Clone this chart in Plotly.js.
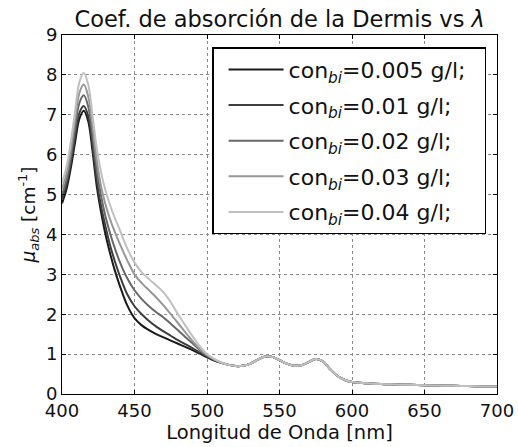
<!DOCTYPE html>
<html>
<head>
<meta charset="utf-8">
<script src="https://cdn.plot.ly/plotly-3.0.1.min.js"></script>
<style>html,body{margin:0;padding:0;background:#fff;}#chart{width:518px;height:447px;}</style>
</head>
<body>
<div id="chart"></div>
<script>
// Wavelength grid (nm) for the band region where the curves differ
const lambdaBand = [400, 403, 406, 409, 412, 415, 418, 421, 424, 427, 430, 433, 436, 440, 445, 450, 455, 460, 465, 470, 475, 480, 485, 490, 495, 500, 505, 510];
// Common tail (all curves coincide beyond ~510 nm)
const lambdaTail = [515, 520, 525, 530, 535, 540, 545, 550, 555, 560, 565, 570, 575, 580, 585, 590, 595, 600, 610, 620, 630, 640, 650, 660, 670, 680, 690, 700];
const muTail     = [0.73, 0.70, 0.71, 0.76, 0.86, 0.94, 0.93, 0.85, 0.76, 0.71, 0.72, 0.80, 0.88, 0.82, 0.62, 0.45, 0.35, 0.30, 0.27, 0.25, 0.24, 0.23, 0.22, 0.21, 0.205, 0.20, 0.19, 0.185];

const mu005 = [4.78, 5.12, 5.65, 6.30, 6.90, 7.10, 6.85, 6.10, 5.20, 4.55, 4.00, 3.55, 3.15, 2.70, 2.22, 1.90, 1.72, 1.60, 1.50, 1.42, 1.34, 1.26, 1.18, 1.10, 1.01, 0.92, 0.84, 0.78];
const mu001 = [4.90, 5.22, 5.78, 6.45, 7.05, 7.22, 6.98, 6.25, 5.35, 4.70, 4.20, 3.75, 3.38, 2.95, 2.50, 2.20, 2.00, 1.83, 1.69, 1.57, 1.46, 1.35, 1.25, 1.15, 1.04, 0.94, 0.85, 0.78];
const mu002 = [5.00, 5.35, 5.92, 6.65, 7.30, 7.49, 7.22, 6.50, 5.60, 4.95, 4.45, 4.05, 3.70, 3.30, 2.90, 2.60, 2.38, 2.20, 2.05, 1.92, 1.76, 1.60, 1.43, 1.27, 1.10, 0.96, 0.86, 0.78];
const mu003 = [5.15, 5.50, 6.10, 6.87, 7.55, 7.76, 7.47, 6.75, 5.85, 5.20, 4.75, 4.40, 4.10, 3.75, 3.35, 3.00, 2.78, 2.60, 2.42, 2.22, 2.00, 1.78, 1.55, 1.33, 1.13, 0.98, 0.87, 0.78];
const mu004 = [5.30, 5.68, 6.30, 7.08, 7.82, 8.05, 7.77, 7.00, 6.15, 5.55, 5.10, 4.75, 4.45, 4.10, 3.65, 3.30, 3.05, 2.88, 2.72, 2.55, 2.30, 2.00, 1.72, 1.45, 1.20, 1.00, 0.88, 0.79];

const seriesNames = ['con<sub><i>bi</i></sub>=0.005 g/l;', 'con<sub><i>bi</i></sub>=0.01 g/l;', 'con<sub><i>bi</i></sub>=0.02 g/l;', 'con<sub><i>bi</i></sub>=0.03 g/l;', 'con<sub><i>bi</i></sub>=0.04 g/l;'];
const seriesData = [mu005, mu001, mu002, mu003, mu004];
const seriesColors = ['#1a1a1a', '#3d3d3d', '#686868', '#979797', '#c0c0c0'];

const xTicks = [400, 450, 500, 550, 600, 650, 700];
const yTicks = [0, 1, 2, 3, 4, 5, 6, 7, 8, 9];

const font = 'DejaVu Sans, Liberation Sans, sans-serif';

const traces = seriesData.map((band, i) => ({
  type: 'scatter',
  mode: 'lines',
  x: lambdaBand.concat(lambdaTail),
  y: band.concat(muTail),
  name: seriesNames[i] + '\u00a0\u00a0',
  legendgroup: 'g' + i,
  line: {color: seriesColors[i], width: 2, shape: 'spline', smoothing: 1},
  hoverinfo: 'skip'
}));

const axisCommon = {
  showline: true, mirror: 'ticks', linecolor: '#000', linewidth: 1,
  ticks: 'inside', ticklen: 4, tickcolor: '#000', tickwidth: 1,
  showgrid: true, gridcolor: '#8a8a8a', griddash: 'dot', gridwidth: 1,
  zeroline: false,
  tickfont: {family: font, size: 18, color: '#111'}
};

const layout = {
  width: 518, height: 447,
  margin: {l: 62, r: 21, t: 35, b: 53},
  paper_bgcolor: '#fff', plot_bgcolor: '#fff',
  title: {text: 'Coef. de absorción de la Dermis vs <i>λ</i>', font: {family: font, size: 22.5, color: '#111'}, x: 0.54, xanchor: 'center', y: 0.957, yanchor: 'middle'},
  xaxis: Object.assign({}, axisCommon, {
    range: [400, 700], tickvals: xTicks, ticktext: xTicks.map(String),
    title: {text: 'Longitud de Onda [nm]', font: {family: font, size: 19.5, color: '#111'}, standoff: 2}
  }),
  yaxis: Object.assign({}, axisCommon, {
    range: [0, 9], tickvals: yTicks, ticktext: yTicks.map(String),
    title: {text: '<i>μ</i><sub><i>abs</i></sub> [cm<sup>-1</sup>]', font: {family: font, size: 18.5, color: '#111'}, standoff: 5}
  }),
  showlegend: true,
  legend: {
    x: 0.345, y: 0.966, xanchor: 'left', yanchor: 'top',
    bgcolor: '#fff', bordercolor: '#000', borderwidth: 1.5,
    font: {family: font, size: 22, color: '#111'},
    tracegroupgap: 4, itemwidth: 55, indentation: 10
  }
};

Plotly.newPlot('chart', traces, layout, {displayModeBar: false, staticPlot: true});
</script>
</body>
</html>
